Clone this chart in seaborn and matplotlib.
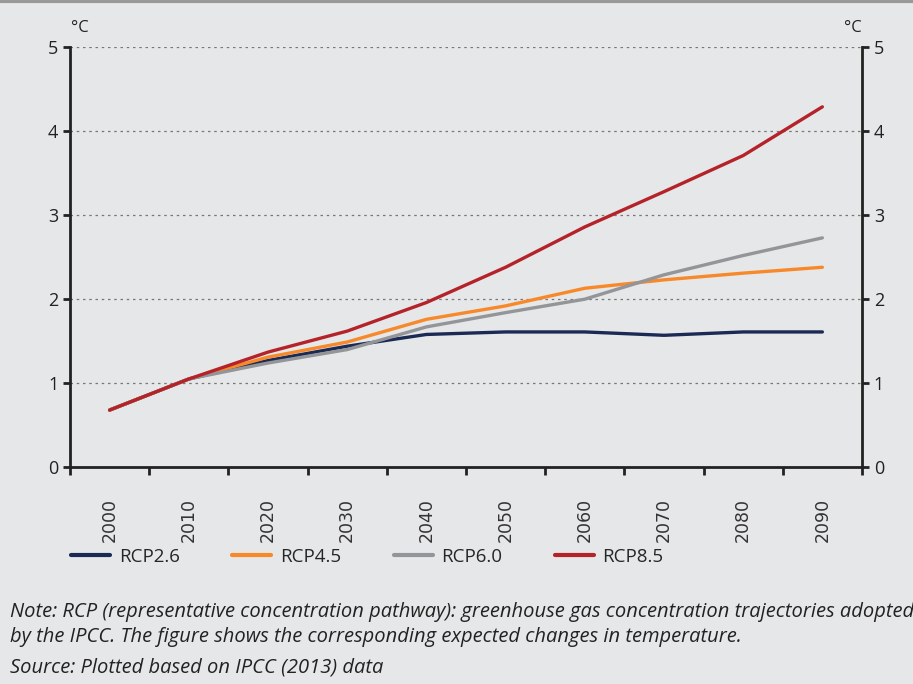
import pandas as pd
import matplotlib.pyplot as plt
import seaborn as sns
from matplotlib.ticker import FixedLocator

# Data (temperature change, °C)
years = [2000, 2010, 2020, 2030, 2040, 2050, 2060, 2070, 2080, 2090]
rcp26 = [0.68, 1.05, 1.27, 1.44, 1.58, 1.61, 1.61, 1.57, 1.61, 1.61]
rcp45 = [0.68, 1.05, 1.31, 1.49, 1.76, 1.92, 2.13, 2.23, 2.31, 2.38]
rcp60 = [0.68, 1.05, 1.24, 1.40, 1.67, 1.84, 2.00, 2.29, 2.52, 2.73]
rcp85 = [0.68, 1.05, 1.37, 1.62, 1.96, 2.38, 2.86, 3.28, 3.71, 4.29]

scenarios = ["RCP2.6", "RCP4.5", "RCP6.0", "RCP8.5"]
colors = {"RCP2.6": "#1b2a55", "RCP4.5": "#f7892a", "RCP6.0": "#939598", "RCP8.5": "#b5232a"}

df = pd.DataFrame({"Year": years, "RCP2.6": rcp26, "RCP4.5": rcp45,
                   "RCP6.0": rcp60, "RCP8.5": rcp85})
df = df.melt(id_vars="Year", var_name="Scenario", value_name="Temp")

bg = "#e6e7e8"
sns.set_theme(style="ticks")
plt.rcParams["font.family"] = ["Open Sans", "DejaVu Sans"]

fig = plt.figure(figsize=(9.13, 6.84), dpi=100, facecolor=bg)
ax = fig.add_axes([0.0767, 0.317, 0.8674, 0.614])
ax.set_facecolor(bg)

sns.lineplot(data=df, x="Year", y="Temp", hue="Scenario", hue_order=scenarios,
             palette=colors, linewidth=2.4, ax=ax, legend=False)

ax.set_xlim(1995, 2095)
ax.set_ylim(0, 5)
ax.set_xlabel("")
ax.set_ylabel("")

# x: labels at the decades, tick marks between them
ax.set_xticks(years)
ax.set_xticklabels([str(y) for y in years], rotation=90, fontsize=12.5,
                   family="DejaVu Sans", color="#333333")
ax.tick_params(axis="x", which="major", length=0, pad=22)
ax.xaxis.set_minor_locator(FixedLocator([1995 + 10 * i for i in range(11)]))
ax.tick_params(axis="x", which="minor", length=6, width=2, color="#222222")

ax.set_yticks(range(6))
ax.tick_params(axis="y", length=5, width=2, labelsize=13, color="#222222",
               labelcolor="#222222")
ax.grid(axis="y", linestyle=(0, (2, 3)), color="#777777", linewidth=0.9)

for s in ["left", "right", "bottom"]:
    ax.spines[s].set_linewidth(2)
    ax.spines[s].set_color("#222222")
ax.spines["top"].set_visible(False)

ax2 = ax.twinx()
ax2.set_ylim(0, 5)
ax2.set_yticks(range(6))
ax2.tick_params(axis="y", length=5, width=2, labelsize=13, color="#222222",
                labelcolor="#222222")
for s in ax2.spines.values():
    s.set_visible(False)

fig.text(80 / 913, 1 - 28 / 684, "°C", fontsize=12, ha="center", va="center", color="#222222")
fig.text(853 / 913, 1 - 28 / 684, "°C", fontsize=12, ha="center", va="center", color="#222222")

handles = [plt.Line2D([], [], color=colors[s], linewidth=3) for s in scenarios]
fig.legend(handles, scenarios, ncol=4, frameon=False, loc="center left",
           bbox_to_anchor=(54 / 913, 1 - 557 / 684), fontsize=13.5,
           handlelength=2.1, handletextpad=0.45, columnspacing=2.8)

note_kw = dict(fontsize=14.5, style="italic", va="center", color="#222222")
fig.text(10 / 913, 1 - 612 / 684,
         "Note: RCP (representative concentration pathway): greenhouse gas concentration trajectories adopted",
         **note_kw)
fig.text(10 / 913, 1 - 637 / 684,
         "by the IPCC. The figure shows the corresponding expected changes in temperature.",
         **note_kw)
fig.text(10 / 913, 1 - 668 / 684, "Source: Plotted based on IPCC (2013) data", **note_kw)

# thin dark band at the very top
fig.add_artist(plt.Line2D([0, 1], [0.998, 0.998], color="#999999", linewidth=3,
                          transform=fig.transFigure))

fig.savefig("out.png", dpi=100, facecolor=bg)
